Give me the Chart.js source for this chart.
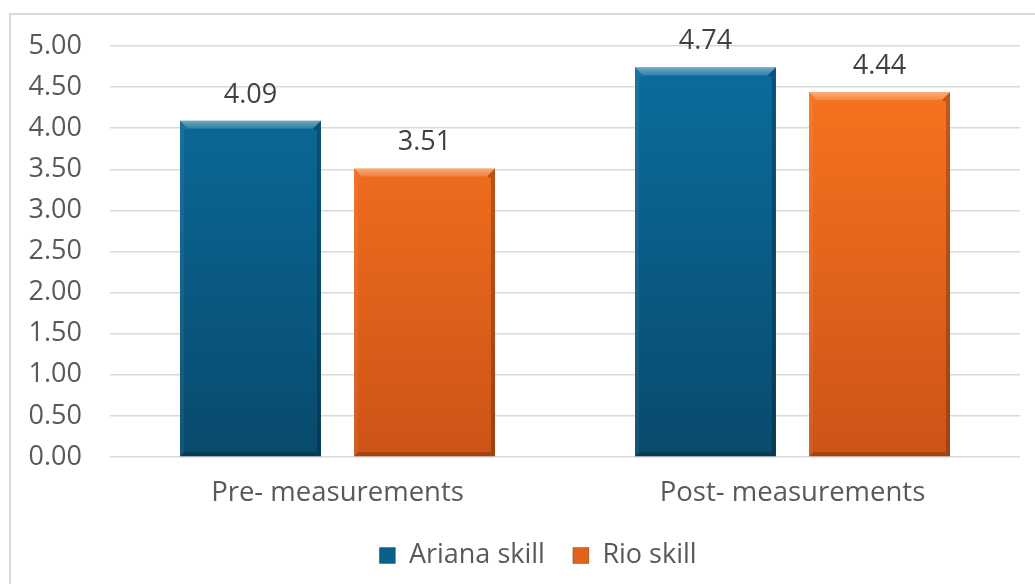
<!DOCTYPE html>
<html><head><meta charset="utf-8">
<script src="https://cdn.jsdelivr.net/npm/chart.js@4"></script>
<style>html,body{margin:0;padding:0;background:#fff;overflow:hidden}</style>
</head><body>
<canvas id="c" width="1035" height="584" style="display:block;width:1035px;height:584px"></canvas>
<script>
const categories = ["Pre- measurements", "Post- measurements"];
const seriesNames = ["Ariana skill", "Rio skill"];
const arianaSkill = [4.09, 4.74];
const rioSkill = [3.51, 4.44];
const yMin = 0, yMax = 5, yStep = 0.5;

const FONT = "'Open Sans', 'Liberation Sans', sans-serif";
const TEXT = '#595959';

const palette = {
  blue:   {top:'#0b6ea0', bottom:'#084a6c', solid:'#0b5f8a'},
  orange: {top:'#fd7620', bottom:'#cc5417', solid:'#e2621c'}
};

function grad(p) {
  return (ctx) => {
    const ch = ctx.chart, a = ch.chartArea;
    if (!a) return p.solid;
    const g = ch.ctx.createLinearGradient(0, a.top, 0, a.bottom);
    g.addColorStop(0, p.top);
    g.addColorStop(1, p.bottom);
    return g;
  };
}

const frame = {
  id: 'frame',
  beforeDraw(chart) {
    const c = chart.ctx;
    c.save();
    c.fillStyle = '#fff';
    c.fillRect(0, 0, chart.width, chart.height);
    c.strokeStyle = '#d9d9d9';
    c.lineWidth = 2;
    c.strokeRect(10, 14, 1200, 800);
    c.restore();
  },
  afterLayout(chart) {
    if (chart.legend) { chart.legend.left += 28; chart.legend.right += 28; }
  }
};

const bevel = {
  id: 'bevel',
  afterDatasetsDraw(chart) {
    const c = chart.ctx;
    chart.data.datasets.forEach((ds, di) => {
      const meta = chart.getDatasetMeta(di);
      meta.data.forEach((bar, i) => {
        const l = bar.x - bar.width / 2, r = bar.x + bar.width / 2;
        const t = bar.y, b = bar.base;
        const bt = 8, bs = 4, bb = 4;
        c.save();
        c.beginPath();
        c.moveTo(l, t); c.lineTo(r, t); c.lineTo(r - bt, t + bt); c.lineTo(l + bt, t + bt); c.closePath();
        const g = c.createLinearGradient(0, t, 0, t + bt);
        g.addColorStop(0, 'rgba(255,255,255,0.42)');
        g.addColorStop(1, 'rgba(255,255,255,0.15)');
        c.fillStyle = g; c.fill();
        c.beginPath();
        c.moveTo(l, t); c.lineTo(l + bt, t + bt); c.lineTo(l + bs, t + bt + 2); c.lineTo(l + bs, b - bb); c.lineTo(l, b); c.closePath();
        c.fillStyle = 'rgba(255,255,255,0.06)'; c.fill();
        c.beginPath();
        c.moveTo(r, t); c.lineTo(r - bt, t + bt); c.lineTo(r - bs, t + bt + 2); c.lineTo(r - bs, b - bb); c.lineTo(r, b); c.closePath();
        c.fillStyle = 'rgba(0,0,0,0.22)'; c.fill();
        c.beginPath();
        c.moveTo(l, b); c.lineTo(r, b); c.lineTo(r - bs, b - bb); c.lineTo(l + bs, b - bb); c.closePath();
        c.fillStyle = 'rgba(0,0,0,0.2)'; c.fill();
        c.fillStyle = '#404040';
        c.font = "27px " + FONT;
        c.textAlign = 'center';
        c.textBaseline = 'alphabetic';
        c.fillText(ds.data[i].toFixed(2), bar.x, t - 18);
        c.restore();
      });
    });
  }
};

new Chart(document.getElementById('c'), {
  type: 'bar',
  data: {
    labels: categories,
    datasets: [
      {label: seriesNames[0], data: arianaSkill, backgroundColor: grad(palette.blue), solid: palette.blue.solid,
       borderWidth: 0, categoryPercentage: 0.765, barPercentage: 0.81},
      {label: seriesNames[1], data: rioSkill, backgroundColor: grad(palette.orange), solid: palette.orange.solid,
       borderWidth: 0, categoryPercentage: 0.765, barPercentage: 0.81}
    ]
  },
  options: {
    responsive: false,
    animation: false,
    devicePixelRatio: 1,
    layout: {padding: {left: 0, right: 15, top: 46, bottom: 5}},
    plugins: {
      tooltip: {enabled: false},
      legend: {
        position: 'bottom',
        labels: {
          color: TEXT,
          font: {family: FONT, size: 27},
          boxWidth: 16, boxHeight: 16,
          padding: 28,
          generateLabels(chart) {
            return chart.data.datasets.map((ds, i) => ({
              text: ds.label, fillStyle: ds.solid, strokeStyle: 'rgba(0,0,0,0.25)', lineWidth: 1,
              hidden: false, datasetIndex: i, fontColor: TEXT
            }));
          }
        }
      }
    },
    scales: {
      x: {
        grid: {display: false, drawTicks: false},
        border: {display: false},
        ticks: {color: TEXT, font: {family: FONT, size: 27.5}, padding: 20},
        afterFit(s) { s.height = s.height - 16; }
      },
      y: {
        min: yMin, max: yMax,
        grid: {color: '#d9d9d9', lineWidth: 1.5, drawTicks: false},
        border: {display: false},
        ticks: {stepSize: yStep, color: TEXT, font: {family: FONT, size: 27}, padding: 28,
                callback: v => Number(v).toFixed(2)},
        afterFit(s) { s.width = 110; }
      }
    }
  },
  plugins: [frame, bevel]
});
</script>
</body></html>
